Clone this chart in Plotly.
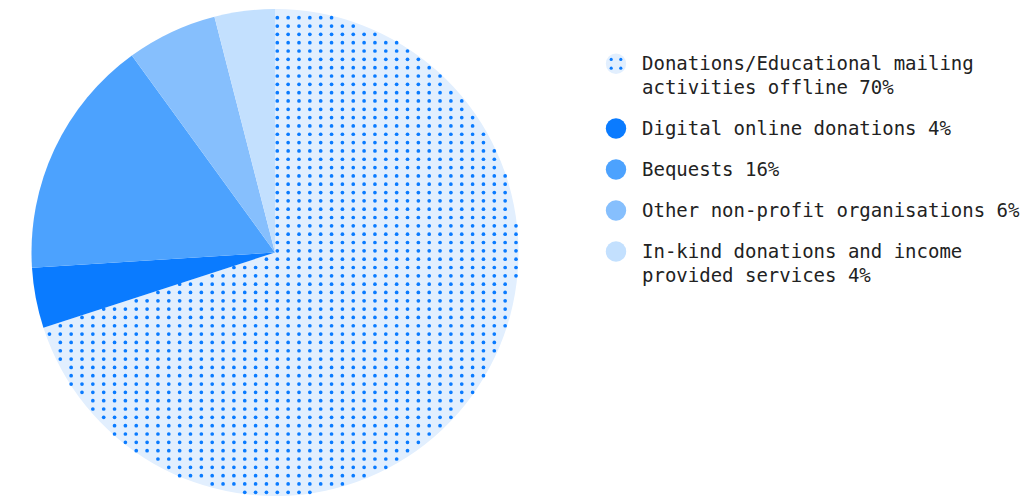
import math
import textwrap
import plotly.graph_objects as go

W, H = 1031, 496

# Income sources and their share of the total (%)
labels = [
    "Donations/Educational mailing activities offline",
    "Digital online donations",
    "Bequests",
    "Other non-profit organisations",
    "In-kind donations and income provided services",
]
shares = [70, 4, 16, 6, 4]
colors = ["#e2effe", "#0a7bff", "#4ca2fe", "#86bffd", "#c3e0fe"]
dot_color = "#0a7bff"
text_color = "#222222"
font_family = "DejaVu Sans Mono"

# Pie geometry in pixels
cx, cy, R = 275.0, 252.5, 243.5


def px(x):
    return x / W


def py(y):
    return 1 - y / H


fig = go.Figure()
fig.add_trace(go.Pie(
    labels=labels,
    values=shares,
    sort=False,
    direction="clockwise",
    rotation=0,
    marker=dict(colors=colors, line=dict(width=0)),
    textinfo="none",
    hoverinfo="label+percent",
    showlegend=False,
    domain=dict(x=[px(cx - R), px(cx + R)], y=[py(cy + R), py(cy - R)]),
))

shapes = []


def dot(x, y, r, color):
    shapes.append(dict(
        type="circle", xref="paper", yref="paper", layer="above",
        x0=px(x - r), x1=px(x + r), y0=py(y + r), y1=py(y - r),
        fillcolor=color, line=dict(width=0),
    ))


# Dotted texture over the first slice, limited to that slice's angular span
span = 360.0 * shares[0] / sum(shares)
a_end = math.radians(span)
ex, ey = math.sin(a_end), -math.cos(a_end)
gx0, gy0, sx, sy, dr = 277.3, 17.7, 10.85, 8.326, 1.85
for j in range(-5, 70):
    y = gy0 + j * sy
    for i in range(-30, 30):
        x = gx0 + i * sx
        dx, dy = x - cx, y - cy
        r = math.hypot(dx, dy)
        if r > R - 0.8 or r < 1:
            continue
        ang = math.degrees(math.atan2(dx, -dy)) % 360
        if ang > span:
            continue
        # keep dots clear of the two straight edges
        if ang < 90 and dx < 0.5:
            continue
        if span - ang < 90 and abs(dx * ey - dy * ex) < 0.5:
            continue
        dot(x, y, dr, dot_color)

# Legend: circle markers with wrapped labels
annotations = []
lx, tx = 616.0, 639.5
row_y, line_step, row_gap = 63.2, 23.7, 17.3
for k, (lab, val) in enumerate(zip(labels, shares)):
    lines = textwrap.wrap(f"{lab} {val}%", width=33)
    dot(lx, row_y + 0.6, 10.2, colors[k])
    if k == 0:
        for ox in (-4.8, 4.8):
            for oy in (-4.4, 4.4):
                dot(lx + ox, row_y + 0.6 + oy, 1.6, dot_color)
    for n, line in enumerate(lines):
        annotations.append(dict(
            text=line, xref="paper", yref="paper",
            x=px(tx), y=py(row_y + n * line_step),
            xanchor="left", yanchor="middle", showarrow=False,
            font=dict(family=font_family, size=19.0, color=text_color),
        ))
    row_y += len(lines) * line_step + row_gap

fig.update_layout(
    width=W, height=H,
    margin=dict(l=0, r=0, t=0, b=0),
    paper_bgcolor="white",
    plot_bgcolor="white",
    shapes=shapes,
    annotations=annotations,
    showlegend=False,
)

fig.write_html("out.html")
